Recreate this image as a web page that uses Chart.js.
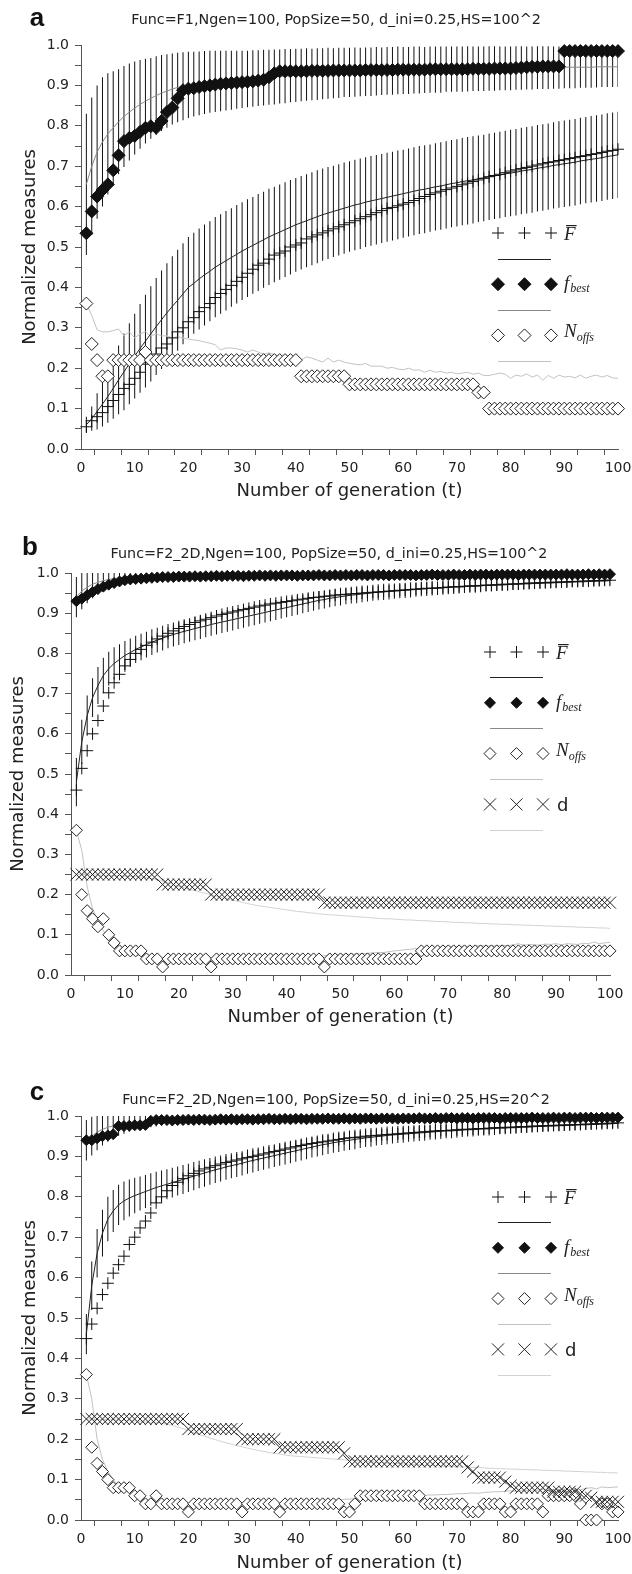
<!DOCTYPE html>
<html>
<head>
<meta charset="utf-8">
<title>Normalized measures</title>
<script src="https://cdn.jsdelivr.net/npm/chart.js@4.4.1/dist/chart.umd.min.js"></script>
<style>
  body { margin: 0; background: #fff; }
  #page { position: relative; width: 632px; height: 1574px; overflow: hidden; }
  canvas { position: absolute; left: 0; }
  .letter { position: absolute; font: bold 26px "Liberation Sans", Arial, sans-serif; color: #111; line-height: 1; transform: translate(-50%, -50%); }
  .ptitle { position: absolute; font: 14.3px "DejaVu Sans", sans-serif; color: #222; white-space: nowrap; line-height: 1; transform: translate(-50%, -50%); }
</style>
</head>
<body>
<div id="page">
  <canvas id="chartA" width="632" height="520" style="top:0px"></canvas>
  <canvas id="chartB" width="632" height="525" style="top:525px"></canvas>
  <canvas id="chartC" width="632" height="518" style="top:1056px"></canvas>
  <div class="letter" style="left:37px;top:17px">a</div>
  <div class="ptitle" style="left:336px;top:19px">Func=F1,Ngen=100, PopSize=50, d_ini=0.25,HS=100^2</div>
  <div class="letter" style="left:30px;top:546px">b</div>
  <div class="ptitle" style="left:329px;top:553px">Func=F2_2D,Ngen=100, PopSize=50, d_ini=0.25,HS=100^2</div>
  <div class="letter" style="left:37px;top:1091px">c</div>
  <div class="ptitle" style="left:336px;top:1099px">Func=F2_2D,Ngen=100, PopSize=50, d_ini=0.25,HS=20^2</div>
</div>
<script>
// generations (x values)
const gens = [1,2,3,4,5,6,7,8,9,10,11,12,13,14,15,16,17,18,19,20,
  21,22,23,24,25,26,27,28,29,30,31,32,33,34,35,36,37,38,39,40,
  41,42,43,44,45,46,47,48,49,50,51,52,53,54,55,56,57,58,59,60,
  61,62,63,64,65,66,67,68,69,70,71,72,73,74,75,76,77,78,79,80,
  81,82,83,84,85,86,87,88,89,90,91,92,93,94,95,96,97,98,99,100];

// ---- panel a: F1, HS=100^2 ----
const aFbarPts = [0.055,0.07,0.08,0.09,0.105,0.12,0.135,0.15,0.16,0.175,
  0.19,0.21,0.22,0.235,0.25,0.26,0.275,0.29,0.30,0.315,
  0.325,0.34,0.35,0.36,0.375,0.385,0.395,0.405,0.415,0.425,
  0.435,0.445,0.455,0.46,0.47,0.48,0.485,0.49,0.5,0.505,
  0.51,0.52,0.525,0.53,0.535,0.54,0.545,0.55,0.555,0.56,
  0.565,0.57,0.575,0.58,0.585,0.59,0.595,0.598,0.602,0.606,
  0.61,0.615,0.62,0.625,0.63,0.634,0.638,0.642,0.646,0.65,
  0.654,0.658,0.662,0.666,0.67,0.674,0.677,0.68,0.684,0.688,
  0.691,0.694,0.697,0.70,0.703,0.706,0.709,0.711,0.714,0.716,
  0.719,0.721,0.724,0.726,0.729,0.731,0.734,0.737,0.739,0.742];
const aFbarLine = [0.06,0.075,0.093,0.111,0.13,0.15,0.171,0.191,0.211,0.23,
  0.249,0.267,0.285,0.303,0.32,0.337,0.353,0.368,0.384,0.40,
  0.41,0.421,0.431,0.44,0.45,0.458,0.466,0.474,0.482,0.49,
  0.497,0.504,0.511,0.518,0.525,0.531,0.537,0.543,0.549,0.555,
  0.56,0.565,0.57,0.575,0.58,0.584,0.588,0.592,0.596,0.60,
  0.604,0.607,0.611,0.614,0.617,0.62,0.623,0.626,0.629,0.632,
  0.635,0.638,0.641,0.643,0.646,0.649,0.651,0.654,0.657,0.659,
  0.662,0.664,0.666,0.669,0.671,0.674,0.676,0.678,0.681,0.683,
  0.685,0.688,0.69,0.692,0.695,0.697,0.699,0.702,0.704,0.706,
  0.708,0.71,0.713,0.715,0.717,0.719,0.721,0.724,0.726,0.728];
const aFbarErr = [0.02,0.03,0.045,0.055,0.065,0.075,0.085,0.095,0.1,0.105,
  0.11,0.115,0.118,0.12,0.122,0.123,0.124,0.125,0.125,0.125,
  0.125,0.125,0.125,0.124,0.124,0.123,0.123,0.122,0.122,0.121,
  0.121,0.12,0.12,0.119,0.119,0.118,0.118,0.117,0.117,0.116,
  0.116,0.115,0.115,0.115,0.114,0.114,0.113,0.113,0.113,0.112,
  0.112,0.112,0.111,0.111,0.111,0.11,0.11,0.11,0.11,0.109,
  0.109,0.109,0.109,0.109,0.108,0.108,0.108,0.108,0.108,0.108,
  0.108,0.108,0.108,0.107,0.107,0.107,0.107,0.107,0.107,0.107,
  0.107,0.107,0.107,0.107,0.107,0.107,0.107,0.107,0.107,0.107,
  0.107,0.107,0.107,0.107,0.107,0.107,0.107,0.107,0.107,0.107];
const aFbestPts = [0.534,0.588,0.625,0.641,0.655,0.69,0.727,0.762,0.77,0.775,
  0.785,0.795,0.799,0.795,0.812,0.834,0.845,0.868,0.888,0.892,
  0.893,0.896,0.898,0.9,0.902,0.904,0.905,0.906,0.907,0.908,
  0.909,0.91,0.912,0.914,0.92,0.93,0.935,0.935,0.935,0.935,
  0.935,0.935,0.936,0.936,0.936,0.936,0.937,0.937,0.937,0.937,
  0.937,0.937,0.938,0.938,0.938,0.938,0.938,0.938,0.939,0.939,
  0.939,0.939,0.939,0.939,0.94,0.94,0.94,0.94,0.94,0.94,
  0.94,0.94,0.941,0.941,0.941,0.941,0.942,0.942,0.942,0.942,
  0.943,0.944,0.945,0.946,0.946,0.947,0.947,0.947,0.947,0.985,
  0.985,0.985,0.985,0.985,0.985,0.985,0.985,0.985,0.985,0.985];
const aFbestLine = [0.655,0.70,0.735,0.76,0.78,0.795,0.81,0.823,0.834,0.844,
  0.853,0.861,0.868,0.875,0.881,0.886,0.891,0.895,0.898,0.901,
  0.903,0.905,0.907,0.909,0.91,0.911,0.912,0.913,0.914,0.915,
  0.916,0.917,0.918,0.919,0.92,0.921,0.922,0.923,0.924,0.925,
  0.926,0.927,0.927,0.928,0.929,0.93,0.93,0.931,0.932,0.932,
  0.933,0.933,0.934,0.934,0.935,0.935,0.936,0.936,0.937,0.937,
  0.937,0.938,0.938,0.938,0.939,0.939,0.939,0.94,0.94,0.94,
  0.94,0.941,0.941,0.941,0.941,0.942,0.942,0.942,0.942,0.942,
  0.943,0.943,0.943,0.943,0.944,0.944,0.944,0.944,0.944,0.945,
  0.945,0.945,0.945,0.945,0.945,0.946,0.946,0.946,0.946,0.946];
const aFbestErr = [0.175,0.17,0.165,0.16,0.15,0.14,0.13,0.125,0.12,0.115,
  0.11,0.105,0.1,0.097,0.094,0.091,0.088,0.086,0.084,0.082,
  0.08,0.079,0.078,0.077,0.076,0.075,0.074,0.073,0.072,0.071,
  0.07,0.07,0.069,0.069,0.068,0.068,0.067,0.067,0.066,0.066,
  0.065,0.065,0.064,0.064,0.063,0.063,0.062,0.062,0.061,0.061,
  0.061,0.06,0.06,0.06,0.06,0.059,0.059,0.059,0.059,0.058,
  0.058,0.058,0.058,0.057,0.057,0.057,0.057,0.056,0.056,0.056,
  0.056,0.056,0.055,0.055,0.055,0.055,0.055,0.054,0.054,0.054,
  0.054,0.054,0.053,0.053,0.053,0.053,0.053,0.052,0.052,0.052,
  0.052,0.052,0.051,0.051,0.051,0.051,0.05,0.05,0.05,0.05];
const aNoffsPts = [0.36,0.26,0.22,0.18,0.18,0.22,0.22,0.22,0.22,0.22,
  0.22,0.24,0.22,0.22,0.22,0.22,0.22,0.22,0.22,0.22,
  0.22,0.22,0.22,0.22,0.22,0.22,0.22,0.22,0.22,0.22,
  0.22,0.22,0.22,0.22,0.22,0.22,0.22,0.22,0.22,0.22,
  0.18,0.18,0.18,0.18,0.18,0.18,0.18,0.18,0.18,0.16,
  0.16,0.16,0.16,0.16,0.16,0.16,0.16,0.16,0.16,0.16,
  0.16,0.16,0.16,0.16,0.16,0.16,0.16,0.16,0.16,0.16,
  0.16,0.16,0.16,0.14,0.14,0.10,0.10,0.10,0.10,0.10,
  0.10,0.10,0.10,0.10,0.10,0.10,0.10,0.10,0.10,0.10,
  0.10,0.10,0.10,0.10,0.10,0.10,0.10,0.10,0.10,0.10];
const aNoffsLine = [0.36,0.33,0.295,0.29,0.29,0.293,0.297,0.28,0.29,0.275,
  0.285,0.29,0.28,0.285,0.28,0.28,0.275,0.278,0.275,0.272,
  0.27,0.268,0.265,0.262,0.258,0.245,0.25,0.25,0.248,0.245,
  0.24,0.245,0.24,0.235,0.238,0.234,0.23,0.232,0.228,0.225,
  0.22,0.228,0.225,0.22,0.215,0.225,0.215,0.22,0.215,0.212,
  0.21,0.208,0.212,0.205,0.205,0.205,0.2,0.202,0.198,0.196,
  0.2,0.195,0.196,0.19,0.195,0.19,0.192,0.188,0.19,0.186,
  0.188,0.19,0.185,0.188,0.182,0.182,0.185,0.188,0.185,0.175,
  0.183,0.18,0.186,0.178,0.183,0.17,0.182,0.175,0.183,0.178,
  0.18,0.176,0.183,0.175,0.18,0.183,0.178,0.182,0.176,0.175];

// ---- panel b: F2_2D, HS=100^2 ----
const bFbarPts = [0.46,0.514,0.558,0.60,0.633,0.669,0.702,0.727,0.748,0.769,
  0.785,0.80,0.81,0.82,0.828,0.836,0.843,0.85,0.856,0.862,
  0.867,0.872,0.877,0.881,0.885,0.889,0.893,0.897,0.90,0.903,
  0.906,0.909,0.912,0.915,0.918,0.92,0.923,0.925,0.927,0.929,
  0.931,0.933,0.935,0.937,0.939,0.94,0.942,0.943,0.945,0.946,
  0.947,0.948,0.949,0.95,0.951,0.952,0.953,0.954,0.955,0.956,
  0.957,0.958,0.959,0.96,0.961,0.962,0.962,0.963,0.964,0.965,
  0.966,0.966,0.967,0.968,0.968,0.969,0.97,0.97,0.971,0.972,
  0.972,0.973,0.973,0.974,0.975,0.975,0.976,0.976,0.977,0.977,
  0.978,0.978,0.979,0.979,0.98,0.98,0.981,0.981,0.982,0.982];
const bFbarLine = [0.48,0.58,0.645,0.69,0.72,0.745,0.762,0.775,0.785,0.795,
  0.802,0.81,0.816,0.822,0.828,0.833,0.838,0.843,0.847,0.851,
  0.855,0.858,0.862,0.865,0.868,0.872,0.875,0.878,0.881,0.884,
  0.887,0.89,0.893,0.896,0.899,0.902,0.905,0.908,0.911,0.914,
  0.917,0.92,0.923,0.926,0.929,0.932,0.934,0.937,0.939,0.941,
  0.943,0.945,0.946,0.948,0.949,0.951,0.952,0.953,0.954,0.955,
  0.956,0.957,0.958,0.959,0.96,0.961,0.962,0.962,0.963,0.964,
  0.965,0.965,0.966,0.967,0.967,0.968,0.969,0.969,0.97,0.97,
  0.971,0.972,0.972,0.973,0.973,0.974,0.974,0.975,0.975,0.976,
  0.976,0.977,0.977,0.978,0.978,0.979,0.979,0.98,0.98,0.981];
const bFbarErr = [0.06,0.055,0.05,0.048,0.046,0.044,0.042,0.04,0.038,0.036,
  0.035,0.034,0.033,0.032,0.032,0.031,0.031,0.03,0.03,0.03,
  0.03,0.029,0.029,0.029,0.028,0.028,0.028,0.027,0.027,0.027,
  0.026,0.026,0.026,0.026,0.025,0.025,0.025,0.025,0.024,0.024,
  0.024,0.024,0.023,0.023,0.023,0.023,0.022,0.022,0.022,0.022,
  0.021,0.021,0.021,0.021,0.02,0.02,0.02,0.02,0.02,0.019,
  0.019,0.019,0.019,0.018,0.018,0.018,0.018,0.017,0.017,0.017,
  0.017,0.016,0.016,0.016,0.016,0.016,0.015,0.015,0.015,0.015,
  0.015,0.014,0.014,0.014,0.014,0.014,0.013,0.013,0.013,0.013,
  0.013,0.013,0.012,0.012,0.012,0.012,0.012,0.012,0.012,0.012];
const bFbestPts = [0.93,0.936,0.945,0.953,0.96,0.966,0.971,0.975,0.979,0.982,
  0.984,0.985,0.986,0.987,0.988,0.989,0.99,0.99,0.99,0.991,
  0.991,0.991,0.992,0.991,0.992,0.992,0.993,0.992,0.993,0.993,
  0.993,0.992,0.993,0.993,0.994,0.993,0.994,0.993,0.994,0.994,
  0.994,0.993,0.994,0.994,0.994,0.995,0.994,0.994,0.995,0.994,
  0.995,0.994,0.995,0.995,0.994,0.995,0.995,0.995,0.994,0.995,
  0.995,0.995,0.995,0.994,0.995,0.995,0.996,0.995,0.995,0.995,
  0.996,0.995,0.995,0.996,0.995,0.996,0.996,0.995,0.996,0.996,
  0.996,0.996,0.995,0.996,0.996,0.996,0.996,0.996,0.996,0.996,
  0.996,0.997,0.996,0.996,0.996,0.997,0.996,0.997,0.996,0.997];
const bFbestLine = [0.94,0.955,0.965,0.972,0.977,0.981,0.984,0.986,0.988,0.99,
  0.99,0.991,0.991,0.992,0.992,0.993,0.993,0.993,0.994,0.994,
  0.994,0.994,0.994,0.995,0.995,0.995,0.995,0.995,0.995,0.995,
  0.995,0.995,0.995,0.995,0.996,0.996,0.996,0.996,0.996,0.996,
  0.996,0.996,0.996,0.996,0.996,0.996,0.996,0.996,0.996,0.996,
  0.996,0.996,0.996,0.996,0.996,0.996,0.996,0.996,0.996,0.996,
  0.996,0.996,0.996,0.996,0.996,0.996,0.996,0.996,0.996,0.996,
  0.997,0.997,0.997,0.997,0.997,0.997,0.997,0.997,0.997,0.997,
  0.997,0.997,0.997,0.997,0.997,0.997,0.997,0.997,0.997,0.997,
  0.997,0.997,0.997,0.997,0.997,0.997,0.997,0.997,0.997,0.997];
const bFbestErr = [0.05,0.045,0.04,0.035,0.03,0.026,0.023,0.02,0.018,0.016,
  0.015,0.014,0.013,0.012,0.012,0.011,0.011,0.01,0.01,0.01,
  0.01,0.01,0.01,0.01,0.01,0.01,0.01,0.01,0.01,0.01,
  0.009,0.009,0.009,0.009,0.009,0.009,0.009,0.009,0.009,0.009,
  0.009,0.009,0.009,0.009,0.009,0.009,0.009,0.009,0.009,0.009,
  0.008,0.008,0.008,0.008,0.008,0.008,0.008,0.008,0.008,0.008,
  0.008,0.008,0.008,0.008,0.008,0.008,0.008,0.008,0.008,0.008,
  0.007,0.007,0.007,0.007,0.007,0.007,0.007,0.007,0.007,0.007,
  0.007,0.007,0.007,0.007,0.007,0.007,0.007,0.007,0.007,0.007,
  0.006,0.006,0.006,0.006,0.006,0.006,0.006,0.006,0.006,0.006];
const bNoffsPts = [0.36,0.2,0.16,0.14,0.12,0.14,0.1,0.08,0.06,0.06,
  0.06,0.06,0.06,0.04,0.04,0.04,0.02,0.04,0.04,0.04,
  0.04,0.04,0.04,0.04,0.04,0.02,0.04,0.04,0.04,0.04,
  0.04,0.04,0.04,0.04,0.04,0.04,0.04,0.04,0.04,0.04,
  0.04,0.04,0.04,0.04,0.04,0.04,0.02,0.04,0.04,0.04,
  0.04,0.04,0.04,0.04,0.04,0.04,0.04,0.04,0.04,0.04,
  0.04,0.04,0.04,0.04,0.06,0.06,0.06,0.06,0.06,0.06,
  0.06,0.06,0.06,0.06,0.06,0.06,0.06,0.06,0.06,0.06,
  0.06,0.06,0.06,0.06,0.06,0.06,0.06,0.06,0.06,0.06,
  0.06,0.06,0.06,0.06,0.06,0.06,0.06,0.06,0.06,0.06];
const bNoffsLine = [0.36,0.31,0.22,0.165,0.135,0.11,0.09,0.077,0.067,0.06,
  0.055,0.051,0.048,0.045,0.043,0.041,0.04,0.039,0.038,0.038,
  0.037,0.037,0.036,0.036,0.036,0.035,0.035,0.035,0.035,0.035,
  0.036,0.036,0.037,0.037,0.038,0.038,0.039,0.04,0.041,0.042,
  0.043,0.044,0.045,0.046,0.047,0.047,0.048,0.049,0.05,0.05,
  0.051,0.052,0.052,0.053,0.054,0.055,0.056,0.056,0.058,0.06,
  0.061,0.063,0.064,0.066,0.066,0.067,0.068,0.069,0.07,0.07,
  0.071,0.07,0.072,0.071,0.072,0.073,0.072,0.073,0.072,0.074,
  0.073,0.075,0.078,0.074,0.076,0.075,0.074,0.077,0.076,0.078,
  0.075,0.078,0.077,0.076,0.079,0.078,0.082,0.078,0.08,0.081];
const bDPts = [0.25,0.25,0.25,0.25,0.25,0.25,0.25,0.25,0.25,0.25,
  0.25,0.25,0.25,0.25,0.25,0.25,0.225,0.225,0.225,0.225,
  0.225,0.225,0.225,0.225,0.225,0.2,0.2,0.2,0.2,0.2,
  0.2,0.2,0.2,0.2,0.2,0.2,0.2,0.2,0.2,0.2,
  0.2,0.2,0.2,0.2,0.2,0.2,0.18,0.18,0.18,0.18,
  0.18,0.18,0.18,0.18,0.18,0.18,0.18,0.18,0.18,0.18,
  0.18,0.18,0.18,0.18,0.18,0.18,0.18,0.18,0.18,0.18,
  0.18,0.18,0.18,0.18,0.18,0.18,0.18,0.18,0.18,0.18,
  0.18,0.18,0.18,0.18,0.18,0.18,0.18,0.18,0.18,0.18,
  0.18,0.18,0.18,0.18,0.18,0.18,0.18,0.18,0.18,0.18];
const bDLine = [0.25,0.25,0.25,0.249,0.249,0.248,0.248,0.247,0.247,0.246,
  0.245,0.244,0.243,0.242,0.24,0.237,0.233,0.229,0.225,0.221,
  0.217,0.213,0.21,0.206,0.203,0.2,0.196,0.192,0.189,0.186,
  0.183,0.18,0.177,0.174,0.172,0.17,0.168,0.166,0.164,0.162,
  0.16,0.158,0.157,0.155,0.154,0.152,0.151,0.15,0.149,0.148,
  0.147,0.146,0.145,0.144,0.143,0.142,0.141,0.14,0.14,0.139,
  0.138,0.137,0.137,0.136,0.135,0.135,0.134,0.133,0.133,0.132,
  0.131,0.131,0.13,0.13,0.129,0.128,0.128,0.127,0.127,0.126,
  0.126,0.125,0.125,0.124,0.124,0.123,0.123,0.122,0.122,0.121,
  0.121,0.12,0.12,0.119,0.119,0.118,0.118,0.117,0.117,0.116];

// ---- panel c: F2_2D, HS=20^2 ----
const cFbarPts = [0.449,0.485,0.524,0.558,0.586,0.611,0.632,0.653,0.682,0.70,
  0.723,0.74,0.76,0.785,0.80,0.815,0.828,0.836,0.845,0.852,
  0.858,0.864,0.869,0.873,0.877,0.881,0.885,0.888,0.891,0.894,
  0.897,0.90,0.903,0.906,0.909,0.912,0.915,0.918,0.921,0.924,
  0.927,0.93,0.932,0.934,0.936,0.938,0.94,0.942,0.944,0.946,
  0.947,0.948,0.95,0.951,0.952,0.953,0.954,0.955,0.956,0.957,
  0.958,0.959,0.96,0.961,0.962,0.963,0.964,0.964,0.965,0.966,
  0.967,0.967,0.968,0.969,0.969,0.97,0.971,0.971,0.972,0.972,
  0.973,0.974,0.974,0.975,0.975,0.976,0.976,0.977,0.977,0.978,
  0.978,0.979,0.979,0.98,0.98,0.981,0.981,0.982,0.982,0.983];
const cFbarLine = [0.46,0.58,0.66,0.71,0.745,0.765,0.78,0.79,0.797,0.803,
  0.808,0.813,0.818,0.823,0.827,0.831,0.835,0.839,0.843,0.847,
  0.851,0.855,0.859,0.863,0.867,0.87,0.874,0.877,0.88,0.883,
  0.887,0.89,0.893,0.896,0.899,0.902,0.905,0.908,0.911,0.914,
  0.917,0.92,0.923,0.926,0.929,0.931,0.934,0.936,0.938,0.94,
  0.942,0.944,0.946,0.947,0.949,0.95,0.952,0.953,0.954,0.955,
  0.956,0.957,0.958,0.959,0.96,0.961,0.962,0.963,0.963,0.964,
  0.965,0.966,0.966,0.967,0.968,0.968,0.969,0.97,0.97,0.971,
  0.971,0.972,0.972,0.973,0.974,0.974,0.975,0.975,0.976,0.976,
  0.977,0.977,0.978,0.978,0.979,0.979,0.98,0.98,0.981,0.982];
const cFbarErr = [0.05,0.06,0.06,0.058,0.055,0.052,0.05,0.048,0.046,0.044,
  0.042,0.041,0.04,0.039,0.038,0.037,0.037,0.036,0.036,0.035,
  0.035,0.034,0.034,0.033,0.033,0.032,0.032,0.031,0.031,0.03,
  0.03,0.03,0.029,0.029,0.029,0.028,0.028,0.028,0.028,0.027,
  0.027,0.027,0.026,0.026,0.026,0.025,0.025,0.025,0.024,0.024,
  0.024,0.023,0.023,0.023,0.022,0.022,0.022,0.021,0.021,0.021,
  0.02,0.02,0.02,0.02,0.019,0.019,0.019,0.018,0.018,0.018,
  0.017,0.017,0.017,0.016,0.016,0.016,0.016,0.015,0.015,0.015,
  0.015,0.014,0.014,0.014,0.014,0.013,0.013,0.013,0.013,0.013,
  0.012,0.012,0.012,0.012,0.012,0.011,0.011,0.011,0.011,0.011];
const cFbestPts = [0.94,0.94,0.945,0.95,0.952,0.955,0.975,0.975,0.976,0.977,
  0.977,0.978,0.988,0.99,0.99,0.99,0.989,0.99,0.99,0.991,
  0.99,0.991,0.991,0.99,0.991,0.992,0.991,0.992,0.991,0.992,
  0.992,0.991,0.992,0.992,0.993,0.992,0.992,0.993,0.992,0.993,
  0.993,0.992,0.993,0.993,0.993,0.994,0.993,0.993,0.994,0.993,
  0.994,0.993,0.994,0.994,0.993,0.994,0.994,0.994,0.993,0.994,
  0.994,0.994,0.995,0.994,0.994,0.995,0.994,0.995,0.995,0.994,
  0.995,0.995,0.994,0.995,0.995,0.995,0.995,0.994,0.995,0.995,
  0.995,0.995,0.995,0.996,0.995,0.995,0.995,0.996,0.995,0.996,
  0.996,0.995,0.996,0.996,0.996,0.995,0.996,0.996,0.996,0.996];
const cFbestLine = [0.94,0.95,0.96,0.967,0.972,0.976,0.979,0.981,0.983,0.985,
  0.986,0.987,0.988,0.989,0.99,0.99,0.991,0.991,0.992,0.992,
  0.992,0.993,0.993,0.993,0.993,0.993,0.994,0.994,0.994,0.994,
  0.994,0.994,0.994,0.995,0.995,0.995,0.995,0.995,0.995,0.995,
  0.995,0.995,0.995,0.995,0.995,0.995,0.995,0.995,0.995,0.995,
  0.996,0.996,0.996,0.996,0.996,0.996,0.996,0.996,0.996,0.996,
  0.996,0.996,0.996,0.996,0.996,0.996,0.996,0.996,0.996,0.996,
  0.996,0.996,0.996,0.996,0.996,0.996,0.996,0.996,0.996,0.996,
  0.996,0.996,0.996,0.996,0.996,0.996,0.996,0.996,0.996,0.996,
  0.996,0.996,0.996,0.996,0.996,0.996,0.996,0.996,0.996,0.996];
const cFbestErr = [0.05,0.048,0.045,0.04,0.036,0.032,0.028,0.025,0.022,0.02,
  0.018,0.017,0.016,0.015,0.014,0.013,0.013,0.012,0.012,0.011,
  0.011,0.011,0.011,0.011,0.011,0.011,0.011,0.011,0.011,0.011,
  0.01,0.01,0.01,0.01,0.01,0.01,0.01,0.01,0.01,0.01,
  0.01,0.01,0.01,0.01,0.01,0.01,0.01,0.01,0.01,0.01,
  0.009,0.009,0.009,0.009,0.009,0.009,0.009,0.009,0.009,0.009,
  0.009,0.009,0.009,0.009,0.009,0.009,0.009,0.009,0.009,0.009,
  0.008,0.008,0.008,0.008,0.008,0.008,0.008,0.008,0.008,0.008,
  0.008,0.008,0.008,0.008,0.008,0.008,0.008,0.008,0.008,0.008,
  0.007,0.007,0.007,0.007,0.007,0.007,0.007,0.007,0.007,0.007];
const cNoffsPts = [0.36,0.18,0.14,0.12,0.1,0.08,0.08,0.08,0.08,0.06,
  0.06,0.04,0.04,0.06,0.04,0.04,0.04,0.04,0.04,0.02,
  0.04,0.04,0.04,0.04,0.04,0.04,0.04,0.04,0.04,0.02,
  0.04,0.04,0.04,0.04,0.04,0.04,0.02,0.04,0.04,0.04,
  0.04,0.04,0.04,0.04,0.04,0.04,0.04,0.04,0.02,0.02,
  0.04,0.06,0.06,0.06,0.06,0.06,0.06,0.06,0.06,0.06,
  0.06,0.06,0.06,0.04,0.04,0.04,0.04,0.04,0.04,0.04,
  0.04,0.02,0.02,0.02,0.04,0.04,0.04,0.04,0.02,0.02,
  0.04,0.04,0.04,0.04,0.04,0.02,0.06,0.06,0.06,0.06,
  0.06,0.06,0.04,0.0,0.0,0.0,0.04,0.04,0.02,0.02];
const cNoffsLine = [0.36,0.3,0.2,0.15,0.12,0.1,0.085,0.075,0.068,0.062,
  0.056,0.05,0.046,0.043,0.041,0.04,0.039,0.038,0.038,0.038,
  0.037,0.037,0.037,0.037,0.037,0.037,0.037,0.037,0.038,0.038,
  0.038,0.039,0.039,0.04,0.04,0.041,0.041,0.042,0.043,0.043,
  0.044,0.045,0.046,0.047,0.048,0.049,0.05,0.05,0.051,0.052,
  0.052,0.053,0.054,0.054,0.055,0.056,0.057,0.057,0.058,0.059,
  0.059,0.06,0.06,0.061,0.062,0.062,0.063,0.063,0.064,0.065,
  0.065,0.066,0.067,0.066,0.068,0.069,0.07,0.07,0.071,0.072,
  0.071,0.072,0.073,0.072,0.074,0.075,0.073,0.076,0.075,0.077,
  0.076,0.077,0.075,0.078,0.08,0.077,0.082,0.08,0.081,0.082];
const cDPts = [0.25,0.25,0.25,0.25,0.25,0.25,0.25,0.25,0.25,0.25,
  0.25,0.25,0.25,0.25,0.25,0.25,0.25,0.25,0.25,0.225,
  0.225,0.225,0.225,0.225,0.225,0.225,0.225,0.225,0.225,0.2,
  0.2,0.2,0.2,0.2,0.2,0.2,0.18,0.18,0.18,0.18,
  0.18,0.18,0.18,0.18,0.18,0.18,0.18,0.18,0.165,0.145,
  0.145,0.145,0.145,0.145,0.145,0.145,0.145,0.145,0.145,0.145,
  0.145,0.145,0.145,0.145,0.145,0.145,0.145,0.145,0.145,0.145,
  0.145,0.13,0.12,0.105,0.105,0.105,0.105,0.105,0.095,0.085,
  0.08,0.08,0.08,0.08,0.08,0.08,0.08,0.07,0.07,0.07,
  0.07,0.07,0.065,0.06,0.055,0.045,0.045,0.045,0.045,0.045];
const cDLine = [0.25,0.25,0.249,0.249,0.248,0.248,0.247,0.246,0.246,0.245,
  0.244,0.243,0.242,0.241,0.24,0.237,0.234,0.23,0.226,0.222,
  0.216,0.212,0.207,0.203,0.199,0.195,0.191,0.188,0.184,0.181,
  0.178,0.175,0.172,0.17,0.167,0.165,0.163,0.161,0.159,0.158,
  0.157,0.156,0.155,0.154,0.153,0.152,0.151,0.15,0.149,0.148,
  0.147,0.146,0.145,0.144,0.143,0.142,0.141,0.14,0.14,0.139,
  0.138,0.137,0.137,0.136,0.135,0.135,0.134,0.133,0.133,0.132,
  0.131,0.131,0.13,0.13,0.129,0.128,0.128,0.127,0.127,0.126,
  0.126,0.125,0.125,0.124,0.124,0.123,0.123,0.122,0.122,0.121,
  0.121,0.12,0.12,0.119,0.119,0.118,0.118,0.117,0.117,0.116];

// marker / line styles
const FBAR = {shape: 'cross', r: 6, fill: '#111', stroke: '#111', line: '#222'};
const FBEST_A = {shape: 'rectRot', r: 6.5, fill: '#111', stroke: '#111', line: '#8a8a8a'};
const NOFFS_A = {shape: 'rectRot', r: 6.5, fill: '#fff', stroke: '#222', line: '#c2c2c2'};
const FBEST = {shape: 'rectRot', r: 5.5, fill: '#111', stroke: '#111', line: '#8a8a8a'};
const NOFFS = {shape: 'rectRot', r: 6, fill: '#fff', stroke: '#222', line: '#c2c2c2'};
const DSTY = {shape: 'crossRot', r: 8.5, fill: '#222', stroke: '#222', line: '#d2d2d2'};

const FONT = '"DejaVu Sans", sans-serif';

function pts(vals) {
  return gens.map((t, i) => ({x: t, y: vals[i]}));
}
function markerSet(vals, st, order) {
  return {type: 'line', data: pts(vals), showLine: false, pointStyle: st.shape,
    pointRadius: st.r, pointBorderWidth: 1, pointBorderColor: st.stroke,
    pointBackgroundColor: st.fill, clip: 14, order: order};
}
function lineSet(vals, st) {
  return {type: 'line', data: pts(vals), borderColor: st.line, borderWidth: 1,
    pointRadius: 0, tension: 0, fill: false, order: 8};
}
function errSet(line, err) {
  return {type: 'bar', data: gens.map((t, i) => ({x: t, y: [line[i] - err[i], line[i] + err[i]]})),
    backgroundColor: '#111', borderWidth: 0, barThickness: 1, grouped: false,
    inflateAmount: 0, order: 9};
}

function drawLabel(ctx, kind, x, y) {
  const serif = '"Liberation Serif", "DejaVu Serif", serif';
  ctx.fillStyle = '#222';
  ctx.textAlign = 'left';
  ctx.textBaseline = 'alphabetic';
  if (kind === 'F') {
    ctx.font = 'italic 19px ' + serif;
    ctx.fillText('F', x, y + 7);
    const w = ctx.measureText('F').width;
    ctx.fillRect(x + 2, y - 8, w - 1, 1.2);
  } else if (kind === 'fbest') {
    ctx.font = 'italic 19px ' + serif;
    ctx.fillText('f', x, y + 5);
    const w = ctx.measureText('f').width;
    ctx.font = 'italic 12px ' + serif;
    ctx.fillText('best', x + w + 1, y + 8);
  } else if (kind === 'noffs') {
    ctx.font = 'italic 19px ' + serif;
    ctx.fillText('N', x, y + 2);
    const w = ctx.measureText('N').width;
    ctx.font = 'italic 12px ' + serif;
    ctx.fillText('offs', x + w, y + 6);
  } else {
    ctx.font = '18px ' + FONT;
    ctx.fillText(kind, x + 1, y + 7);
  }
}

// legend drawn as rows: three markers + label, then a line sample
const rowLegend = {
  id: 'rowLegend',
  afterDraw(chart, args, opts) {
    const {ctx, chartArea} = chart;
    const xs = [chartArea.right - 120, chartArea.right - 93.5, chartArea.right - 67];
    ctx.save();
    opts.items.forEach((item, i) => {
      const y = chartArea.top + opts.top + i * opts.step;
      if (item.label === null) {
        ctx.strokeStyle = item.st.line;
        ctx.lineWidth = 1;
        ctx.beginPath();
        ctx.moveTo(xs[0], Math.round(y) + 0.5);
        ctx.lineTo(xs[2], Math.round(y) + 0.5);
        ctx.stroke();
      } else {
        ctx.fillStyle = item.st.fill;
        ctx.strokeStyle = item.st.stroke;
        ctx.lineWidth = 1;
        xs.forEach(x => Chart.helpers.drawPoint(ctx,
          {pointStyle: item.st.shape, radius: item.st.r, borderWidth: 1, rotation: 0}, x, y));
        drawLabel(ctx, item.label, chartArea.right - 54, y);
      }
    });
    ctx.restore();
  }
};

function makeChart(geo, datasets, items) {
  const canvas = document.getElementById(geo.id);
  const areaTop = geo.areaTop - geo.top;
  const areaBottom = geo.areaBottom - geo.top;
  const padLeft = geo.yTitleX - 10.8 - 4;
  const xH = geo.xTitleOff + 10.8;
  const padBottom = canvas.height - areaBottom - xH;
  const tickFont = {family: FONT, size: 14};
  const titleFont = {family: FONT, size: 18};
  const grid = {display: true, drawOnChartArea: false, drawTicks: true, tickLength: 6, color: '#555'};
  const border = {display: true, color: '#555', width: 1};
  return new Chart(canvas, {
    type: 'line',
    data: {datasets: datasets},
    options: {
      responsive: false,
      animation: false,
      events: [],
      layout: {padding: {left: padLeft, right: 632 - geo.right, top: areaTop, bottom: padBottom}},
      plugins: {
        legend: {display: false},
        tooltip: {enabled: false},
        rowLegend: {items: items, top: geo.legendTop, step: geo.legendStep}
      },
      scales: {
        x: {
          type: 'linear', min: 0, max: 100, offset: false,
          ticks: {stepSize: 5, autoSkip: false, maxRotation: 0, padding: 5, font: tickFont, color: '#222',
            callback: v => (v % 10 === 0 ? String(v) : '')},
          grid: grid, border: border,
          title: {display: true, text: 'Number of generation (t)', font: titleFont, color: '#222',
            padding: {top: 0, bottom: 0}},
          afterFit: s => { s.height = xH; s.paddingLeft = 0; s.paddingRight = 0; }
        },
        y: {
          min: 0, max: 1,
          ticks: {stepSize: 0.05, autoSkip: false, padding: 6, font: tickFont, color: '#222',
            callback: v => (Math.round(v * 20) % 2 === 0 ? v.toFixed(1) : '')},
          grid: grid, border: border,
          title: {display: true, text: 'Normalized measures', font: titleFont, color: '#222',
            padding: {top: 4, bottom: 0}},
          afterFit: s => { s.width = geo.left - padLeft; }
        }
      }
    },
    plugins: [rowLegend]
  });
}

// panel a
makeChart(
  {id: 'chartA', top: 0, left: 81, right: 618, areaTop: 45, areaBottom: 449,
   yTitleX: 30, xTitleOff: 42, legendTop: 188, legendStep: 25.6},
  [
    markerSet(aNoffsPts, NOFFS_A, 1),
    markerSet(aFbestPts, FBEST_A, 2),
    markerSet(aFbarPts, FBAR, 3),
    lineSet(aFbarLine, FBAR),
    lineSet(aFbestLine, FBEST_A),
    lineSet(aNoffsLine, NOFFS_A),
    errSet(aFbarLine, aFbarErr),
    errSet(aFbestLine, aFbestErr)
  ],
  [{st: FBAR, label: 'F'}, {st: FBAR, label: null},
   {st: FBEST_A, label: 'fbest'}, {st: FBEST_A, label: null},
   {st: NOFFS_A, label: 'noffs'}, {st: NOFFS_A, label: null}]
);

// panel b
makeChart(
  {id: 'chartB', top: 525, left: 71, right: 610, areaTop: 573, areaBottom: 975,
   yTitleX: 18, xTitleOff: 42, legendTop: 79, legendStep: 25.4},
  [
    markerSet(bDPts, DSTY, 0),
    markerSet(bNoffsPts, NOFFS, 1),
    markerSet(bFbestPts, FBEST, 2),
    markerSet(bFbarPts, FBAR, 3),
    lineSet(bFbarLine, FBAR),
    lineSet(bFbestLine, FBEST),
    lineSet(bNoffsLine, NOFFS),
    lineSet(bDLine, DSTY),
    errSet(bFbarLine, bFbarErr),
    errSet(bFbestLine, bFbestErr)
  ],
  [{st: FBAR, label: 'F'}, {st: FBAR, label: null},
   {st: FBEST, label: 'fbest'}, {st: FBEST, label: null},
   {st: NOFFS, label: 'noffs'}, {st: NOFFS, label: null},
   {st: DSTY, label: 'd'}, {st: DSTY, label: null}]
);

// panel c
makeChart(
  {id: 'chartC', top: 1056, left: 81, right: 618, areaTop: 1116, areaBottom: 1520,
   yTitleX: 30, xTitleOff: 43, legendTop: 81, legendStep: 25.4},
  [
    markerSet(cDPts, DSTY, 0),
    markerSet(cNoffsPts, NOFFS, 1),
    markerSet(cFbestPts, FBEST, 2),
    markerSet(cFbarPts, FBAR, 3),
    lineSet(cFbarLine, FBAR),
    lineSet(cFbestLine, FBEST),
    lineSet(cNoffsLine, NOFFS),
    lineSet(cDLine, DSTY),
    errSet(cFbarLine, cFbarErr),
    errSet(cFbestLine, cFbestErr)
  ],
  [{st: FBAR, label: 'F'}, {st: FBAR, label: null},
   {st: FBEST, label: 'fbest'}, {st: FBEST, label: null},
   {st: NOFFS, label: 'noffs'}, {st: NOFFS, label: null},
   {st: DSTY, label: 'd'}, {st: DSTY, label: null}]
);
</script>
</body>
</html>
